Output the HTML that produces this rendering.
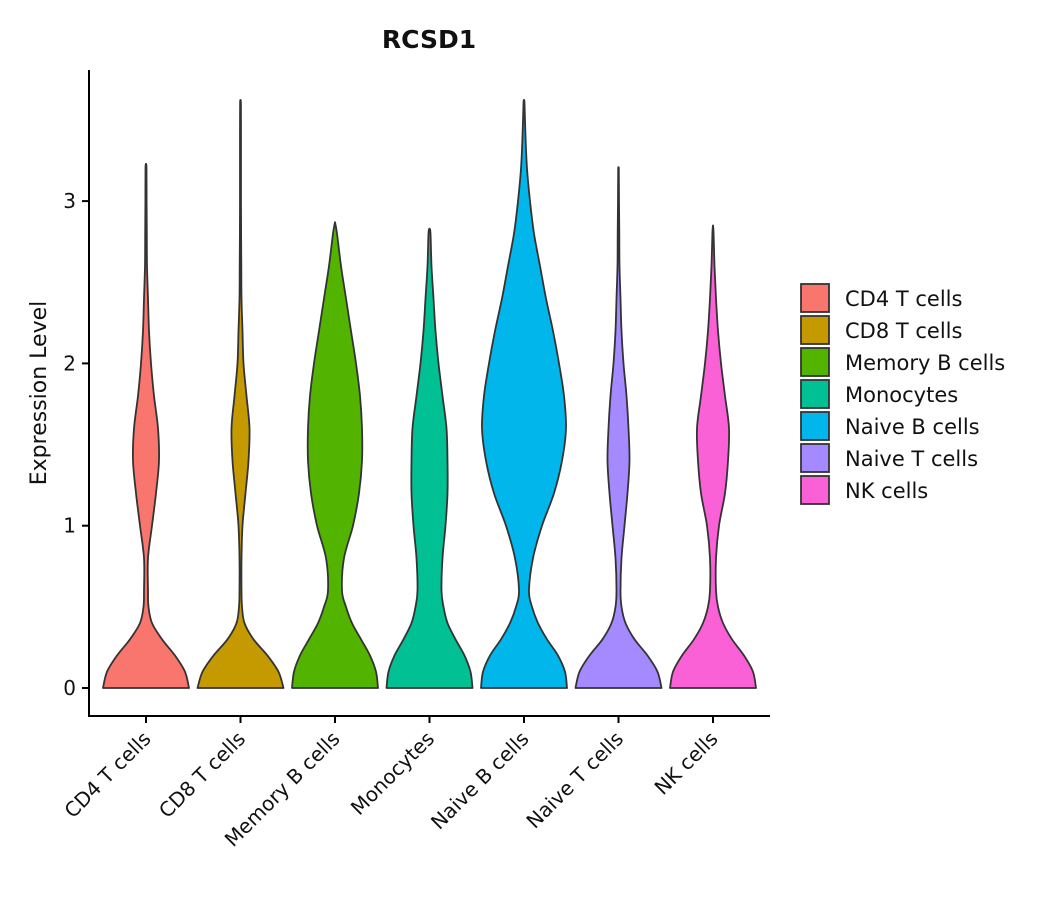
<!DOCTYPE html>
<html><head><meta charset="utf-8"><style>
body{margin:0;background:#fff;font-family:"Liberation Sans","DejaVu Sans",sans-serif}
svg text{font-family:"DejaVu Sans","Liberation Sans",sans-serif;fill:#111}
</style></head><body>
<svg id="chart" width="1050" height="900" viewBox="0 0 1050 900" xmlns="http://www.w3.org/2000/svg">
<text x="429" y="48" text-anchor="middle" font-size="25" font-weight="bold">RCSD1</text>
<text transform="translate(46,393) rotate(-90)" text-anchor="middle" font-size="22">Expression Level</text>
<g id="violins"></g>
<g id="axes"></g>
<g id="legend"></g>
</svg>
<script>
const categories=["CD4 T cells","CD8 T cells","Memory B cells","Monocytes","Naive B cells","Naive T cells","NK cells"];
const colors=["#F8766D","#C49A00","#53B400","#00C094","#00B6EB","#A58AFF","#FB61D7"];
const levels=[0,0.1,0.2,0.3,0.4,0.5,0.6,0.8,1.0,1.2,1.4,1.6,1.8,2.0,2.2,2.4,2.6,2.8,3.0,3.2,3.4,3.6];
const maxVals=[3.23,3.62,2.87,2.83,3.62,3.17,2.85];
const widths=[
[43,39,29,16,6,2.5,2,2,6,10,13,12,8,5,3,2,1,0.8,0.6,0.5],
[43,38,27,13,4,1.5,1,1,2,5,8,9,6,3,2,1,0.8,0.6,0.5,0.5,0.5,0.4],
[43,41,35,26,17,11,7,9,18,24,27,27,25,21,16,11,6,2],
[43,41,35,26,18,14,12,13,16,18,18,17,13,9,6,4,2,1],
[43,41,34,23,14,8,5,9,18,30,38,42,40,35,29,22,16,10,6,3,1.5,0.5],
[43,39,29,16,7,3,2,3,6,9,11,10,8,5,3,2,1,0.8,0.5,0.3],
[43,40,31,19,10,5,3,3,6,12,15,16,12,8,5,3,1.5,0.6]
];
const yTicks=[0,1,2,3];
const NS="http://www.w3.org/2000/svg";
const yScale=v=>688-v*162.3;
const xScale=i=>146+i*94.5;
function mk(tag,attrs,parent){const e=document.createElementNS(NS,tag);for(const k in attrs)e.setAttribute(k,attrs[k]);parent.appendChild(e);return e;}
function smooth(pts){let d="M"+pts[0][0]+","+pts[0][1];for(let i=0;i<pts.length-1;i++){const p0=pts[i-1]||pts[i],p1=pts[i],p2=pts[i+1],p3=pts[i+2]||p2;const c1=[p1[0]+(p2[0]-p0[0])/6,p1[1]+(p2[1]-p0[1])/6],c2=[p2[0]-(p3[0]-p1[0])/6,p2[1]-(p3[1]-p1[1])/6];d+=" C"+c1+" "+c2+" "+p2;}return d;}
const vg=document.getElementById("violins");
categories.forEach((c,i)=>{
  const cx=xScale(i);const w=widths[i];
  const side=w.map((h,j)=>[h,yScale(levels[j])]);
  side.push([0,yScale(maxVals[i])]);
  const left=side.map(p=>[cx-p[0],p[1]]);
  const right=side.slice().reverse().map(p=>[cx+p[0],p[1]]);
  const d=smooth(left)+" L"+right[0]+smooth(right).replace(/^M[^ C]+/,"")+" Z";
  const p=mk("path",{d:d,fill:colors[i],stroke:"#333","stroke-width":1.8,"stroke-linejoin":"round"},vg);
  
  
});
const ag=document.getElementById("axes");
mk("line",{x1:89,y1:70,x2:89,y2:717,stroke:"#000","stroke-width":2},ag);
mk("line",{x1:88,y1:716,x2:770,y2:716,stroke:"#000","stroke-width":2},ag);
yTicks.forEach(t=>{
  mk("line",{x1:82,x2:89,y1:yScale(t),y2:yScale(t),stroke:"#000","stroke-width":2},ag);
  const tx=mk("text",{x:76,y:yScale(t)+7,"text-anchor":"end","font-size":20},ag);tx.textContent=t;
  
  
});
categories.forEach((c,i)=>{
  const x=xScale(i);
  mk("line",{x1:x,x2:x,y1:716,y2:723,stroke:"#000","stroke-width":2},ag);
  const tx=mk("text",{transform:`translate(${x+6},${740}) rotate(-45)`,"text-anchor":"end","font-size":20},ag);tx.textContent=c;
  
  
});
const lg=document.getElementById("legend");
categories.forEach((c,i)=>{
  const y=284+i*32;
  const g=mk("g",{},lg);
  
  
  mk("rect",{x:801,y:y,width:28,height:28,fill:colors[i],stroke:"#333","stroke-width":1.8},g);
  const t=mk("text",{x:845,y:y+22,"font-size":21},g);t.textContent=c;
});
</script>
</body></html>
